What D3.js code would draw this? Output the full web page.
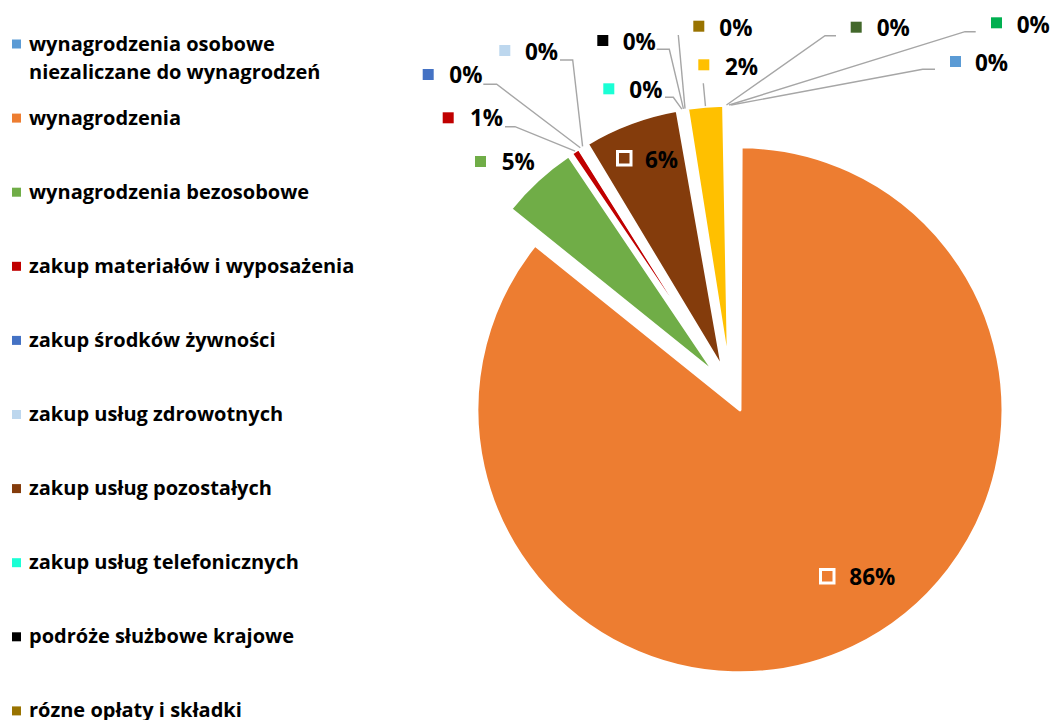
<!DOCTYPE html>
<html>
<head>
<meta charset="utf-8">
<script src="https://cdn.jsdelivr.net/npm/d3@7"></script>
<style>
  html, body { margin: 0; padding: 0; background: #fff; overflow: hidden; }
  svg { display: block; }
  text { font-family: "Open Sans", "DejaVu Sans", sans-serif; font-weight: 700; fill: #000; }
</style>
</head>
<body>
<svg id="chart" width="1051" height="720"></svg>
<script>
// ---- data ----
const categories = [
  "wynagrodzenia osobowe niezaliczane do wynagrodzeń",
  "wynagrodzenia",
  "wynagrodzenia bezosobowe",
  "zakup materiałów i wyposażenia",
  "zakup środków żywności",
  "zakup usług zdrowotnych",
  "zakup usług pozostałych",
  "zakup usług telefonicznych",
  "podróże służbowe krajowe",
  "rózne opłaty i składki",
  "odpisy na zakładowy fundusz świadczeń socjalnych",
  "szkolenia pracowników",
  "zakup akcesoriów komputerowych"
];
const values = [0.07, 85.71, 4.78, 0.53, 0.15, 0.15, 5.83, 0.10, 0.08, 0.10, 2.20, 0.15, 0.15];
const colors = ["#5B9BD5", "#ED7D31", "#70AD47", "#C00000", "#4472C4", "#BDD7EE",
                "#843C0C", "#1AFFD5", "#000000", "#997300", "#FFC000", "#43682B", "#00B050"];
const legendLines = [
  ["wynagrodzenia osobowe", "niezaliczane do wynagrodzeń"],
  ["wynagrodzenia"], ["wynagrodzenia bezosobowe"], ["zakup materiałów i wyposażenia"],
  ["zakup środków żywności"], ["zakup usług zdrowotnych"], ["zakup usług pozostałych"],
  ["zakup usług telefonicznych"], ["podróże służbowe krajowe"], ["rózne opłaty i składki"],
  ["odpisy na zakładowy fundusz świadczeń socjalnych"], ["szkolenia pracowników"],
  ["zakup akcesoriów komputerowych"]
];

// ---- layout (label placement, not data) ----
const labelLayout = [
  { m: [950, 56],    ms: 11, box: false, t: [975, 70.7],   lead: [[935, 69.3], [922.7, 69.3]] },
  { m: [820.5, 569.5], ms: 13.5, box: true, t: [849.3, 585], lead: null },
  { m: [475, 156],   ms: 11, box: false, t: [501.7, 170],  lead: null },
  { m: [442.7, 112.3], ms: 11, box: false, t: [470, 126],  lead: [[505, 126.7], [515, 126.7]] },
  { m: [422.7, 69],  ms: 11, box: false, t: [449.3, 83.3], lead: [[483.3, 84.3], [496.7, 84.3]] },
  { m: [499.3, 45],  ms: 11, box: false, t: [525, 60],     lead: [[560, 60], [572.7, 60]] },
  { m: [617.5, 151.5], ms: 13.5, box: true, t: [645, 168.3], lead: null },
  { m: [603.3, 83.3], ms: 11, box: false, t: [629.3, 98.3], lead: [[665, 97.3], [673.3, 97.3]] },
  { m: [597.3, 35],  ms: 11, box: false, t: [622.7, 50],   lead: [[656.7, 49.3], [669.3, 49.3]] },
  { m: [693.3, 20.7], ms: 11, box: false, t: [719.3, 36],  lead: [[678.3, 35]] },
  { m: [698.3, 59.3], ms: 11, box: false, t: [725, 75],    lead: [[703.3, 83.3]] },
  { m: [850.7, 21.7], ms: 11, box: false, t: [876.7, 36],  lead: [[836, 35.7], [825, 35.7]] },
  { m: [991, 17.3],  ms: 11, box: false, t: [1016.7, 32.7], lead: [[975.7, 31.7], [965, 31.7]] }
];

const W = 1051, H = 720;
const cx = 730.5, cy = 390, R = 263, explode = 22;

const svg = d3.select("#chart");
svg.append("rect").attr("width", W).attr("height", H).attr("fill", "#fff");

// ---- pie ----
const pie = d3.pie().sort(null).value(d => d).startAngle(0).endAngle(2 * Math.PI);
const arcs = pie(values);
const arc = d3.arc().innerRadius(0).outerRadius(R);
const total = d3.sum(values);
const pct = v => Math.round(100 * v / total) + "%";

const g = svg.append("g").attr("transform", `translate(${cx},${cy})`);
const mid = a => (a.startAngle + a.endAngle) / 2;

g.selectAll("path.slice")
  .data(arcs)
  .join("path")
  .attr("class", "slice")
  .attr("d", arc)
  .attr("transform", a => {
    const m = mid(a);
    return `translate(${explode * Math.sin(m)},${-explode * Math.cos(m)})`;
  })
  .attr("fill", (a, i) => colors[i])
  .attr("stroke", "#fff")
  .attr("stroke-width", 3)
  .attr("stroke-linejoin", "round");

// ---- leader lines ----
const line = d3.line();
arcs.forEach((a, i) => {
  const L = labelLayout[i];
  if (!L.lead) return;
  const m = mid(a);
  const end = [cx + (R + explode) * Math.sin(m), cy - (R + explode) * Math.cos(m)];
  svg.append("path")
    .attr("d", line(L.lead.concat([end])))
    .attr("fill", "none")
    .attr("stroke", "#A6A6A6")
    .attr("stroke-width", 1.4);
});

// ---- data labels ----
arcs.forEach((a, i) => {
  const L = labelLayout[i];
  const r = svg.append("rect")
    .attr("x", L.m[0]).attr("y", L.m[1])
    .attr("width", L.ms).attr("height", L.ms)
    .attr("fill", colors[i]);
  if (L.box) r.attr("stroke", "#fff").attr("stroke-width", 3);
  svg.append("text")
    .attr("x", L.t[0]).attr("y", L.t[1])
    .style("font-size", "22.5px")
    .text(pct(values[i]));
});

// ---- legend ----
const legendTop = 44, legendStep = 74.1;
const leg = svg.append("g");
categories.forEach((c, i) => {
  const yc = legendTop + i * legendStep;
  leg.append("rect")
    .attr("x", 12).attr("y", yc - 4.5)
    .attr("width", 9).attr("height", 9)
    .attr("fill", colors[i]);
  const t = leg.append("text")
    .attr("x", 29).attr("y", yc + 6.5)
    .style("font-size", "20px");
  legendLines[i].forEach((ln, k) => {
    t.append("tspan").attr("x", 29).attr("dy", k === 0 ? 0 : 28).text(ln);
  });
});
</script>
</body>
</html>
